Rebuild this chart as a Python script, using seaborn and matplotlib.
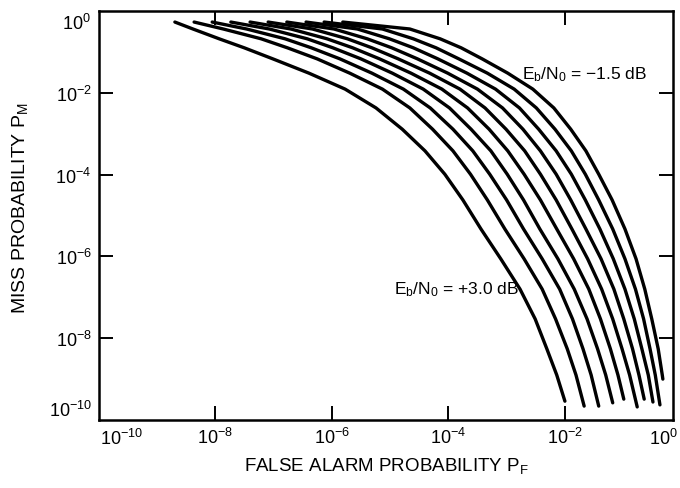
import matplotlib
matplotlib.use('Agg')
import matplotlib.pyplot as plt
import seaborn as sns
import numpy as np
import pandas as pd

sns.set_style('ticks')
plt.rcParams['font.family'] = ['Liberation Sans', 'DejaVu Sans']
plt.rcParams['mathtext.fontset'] = 'custom'
plt.rcParams['mathtext.rm'] = 'Liberation Sans'
plt.rcParams['mathtext.it'] = 'Liberation Sans'
plt.rcParams.update({'text.color': 'black', 'axes.labelcolor': 'black',
                     'xtick.color': 'black', 'ytick.color': 'black'})

# Eb/N0 of each curve, left (best) to right (worst)
snr_db = ['+3.0', '+2.5', '+2.0', '+1.5', '+1.0', '+0.5', '0.0', '-0.5', '-1.0', '-1.5']

log_pm_levels = [-0.27, -0.44, -0.68, -0.90, -1.17, -1.52, -1.91, -2.37, -2.89,
                 -3.42, -3.99, -4.62, -5.33, -6.06, -6.80, -7.53, -8.26, -8.90]

# log10 P_F of each curve at those levels
log_pf_p30 = [-8.69, -8.38, -7.93, -7.50, -7.01, -6.39, -5.77, -5.24, -4.79,
              -4.40, -4.06, -3.75, -3.44, -3.10, -2.77, -2.51, -2.31, -2.14]
log_pf_p25 = [-8.36, -7.86, -7.21, -6.76, -6.25, -5.69, -5.13, -4.66, -4.27,
              -3.92, -3.62, -3.33, -3.03, -2.70, -2.39, -2.16, -1.96, -1.81]
log_pf_p20 = [-8.05, -7.46, -6.80, -6.35, -5.86, -5.31, -4.77, -4.31, -3.92,
              -3.58, -3.29, -3.00, -2.71, -2.39, -2.09, -1.87, -1.69, -1.55]
log_pf_p15 = [-7.73, -7.07, -6.42, -5.98, -5.50, -4.96, -4.43, -3.98, -3.61,
              -3.27, -2.99, -2.71, -2.43, -2.12, -1.84, -1.62, -1.44, -1.30]
log_pf_p10 = [-7.40, -6.70, -6.08, -5.64, -5.18, -4.64, -4.11, -3.67, -3.30,
              -2.98, -2.70, -2.42, -2.14, -1.85, -1.59, -1.39, -1.22, -1.09]
log_pf_p05 = [-7.09, -6.33, -5.73, -5.31, -4.86, -4.32, -3.80, -3.37, -3.01,
              -2.69, -2.42, -2.15, -1.88, -1.61, -1.37, -1.18, -1.02, -0.89]
log_pf_000 = [-6.77, -5.96, -5.39, -4.97, -4.53, -4.01, -3.50, -3.07, -2.72,
              -2.42, -2.15, -1.90, -1.64, -1.38, -1.16, -0.99, -0.84, -0.73]
log_pf_m05 = [-6.44, -5.56, -5.01, -4.60, -4.18, -3.68, -3.19, -2.78, -2.45,
              -2.15, -1.89, -1.65, -1.40, -1.17, -0.97, -0.81, -0.68, -0.57]
log_pf_m10 = [-6.13, -5.13, -4.60, -4.21, -3.82, -3.33, -2.87, -2.49, -2.17,
              -1.89, -1.65, -1.42, -1.18, -0.97, -0.79, -0.65, -0.54, -0.45]
log_pf_m15 = [-5.81, -4.66, -4.14, -3.78, -3.42, -2.98, -2.55, -2.19, -1.90,
              -1.64, -1.42, -1.19, -0.97, -0.78, -0.63, -0.51, -0.40, -0.33]

# where each curve stops at the bottom
log_pf_end = [-2.00, -1.67, -1.42, -1.18, -0.99, -0.76, -0.64, -0.49, -0.37, -0.32]
log_pm_end = [-9.54, -9.66, -9.66, -9.58, -9.49, -9.68, -9.49, -9.56, -9.63, -9.00]

pf_curves = [log_pf_p30, log_pf_p25, log_pf_p20, log_pf_p15, log_pf_p10,
             log_pf_p05, log_pf_000, log_pf_m05, log_pf_m10, log_pf_m15]

rows = []
for i, name in enumerate(snr_db):
    xs = pf_curves[i] + [log_pf_end[i]]
    ys = log_pm_levels + [log_pm_end[i]]
    for order, (a, b) in enumerate(zip(xs, ys)):
        rows.append({'snr': name, 'order': order, 'pf': 10.0 ** a, 'pm': 10.0 ** b})
df = pd.DataFrame(rows)

W, H = 680, 489
fig = plt.figure(figsize=(W / 100, H / 100), dpi=100)
ax_l, ax_r, ax_t, ax_b = 98.5, 673, 12, 421
ax = fig.add_axes([ax_l / W, 1 - ax_b / H, (ax_r - ax_l) / W, (ax_b - ax_t) / H])
ax.set_xscale('log')
ax.set_yscale('log')

sns.lineplot(data=df, x='pf', y='pm', units='snr', estimator=None, sort=False,
             color='black', linewidth=2.4, legend=False, ax=ax,
             solid_capstyle='round', solid_joinstyle='round')

ax.set_xlim(1e-10, 10 ** -0.146)
ax.set_ylim(1e-10, 1e0)
ax.minorticks_off()

ax.set_xticks([1e-8, 1e-6, 1e-4, 1e-2])
ax.set_xticklabels([r'$10^{-8}$', r'$10^{-6}$', r'$10^{-4}$', r'$10^{-2}$'])
ax.set_yticks([1e-2, 1e-4, 1e-6, 1e-8])
ax.set_yticklabels([r'$10^{-2}$', r'$10^{-4}$', r'$10^{-6}$', r'$10^{-8}$'])
ax.tick_params(direction='in', length=10, width=1.4, top=True, right=True,
               labelsize=13, pad=5, colors='black')
for s in ax.spines.values():
    s.set_linewidth(1.8)
    s.set_color('black')

# corner labels sit off the corners in the original
fig.text(122 / W, 1 - 439 / H, r'$10^{-10}$', ha='center', va='center', fontsize=13)
fig.text(678 / W, 1 - 439 / H, r'$10^{0}$', ha='right', va='center', fontsize=13)
fig.text(91 / W, 1 - 24 / H, r'$10^{0}$', ha='right', va='center', fontsize=13)
fig.text(92 / W, 1 - 411 / H, r'$10^{-10}$', ha='right', va='center', fontsize=13)

ax.set_xlabel('')
ax.set_ylabel('')
fig.text(386 / W, 1 - 466 / H, r'FALSE ALARM PROBABILITY P$_\mathregular{F}$',
         ha='center', va='center', fontsize=13.5)
fig.text(20 / W, 1 - 208 / H, r'MISS PROBABILITY P$_\mathregular{M}$',
         ha='center', va='center', rotation=90, fontsize=14)

fig.text(522 / W, 1 - 75 / H, r'E$_\mathregular{b}$/N$_\mathregular{0}$ = $-$1.5 dB',
         ha='left', va='center', fontsize=12.5)
fig.text(519 / W, 1 - 290 / H, r'E$_\mathregular{b}$/N$_\mathregular{0}$ = +3.0 dB',
         ha='right', va='center', fontsize=12.5)

fig.savefig('out.png', dpi=100)
